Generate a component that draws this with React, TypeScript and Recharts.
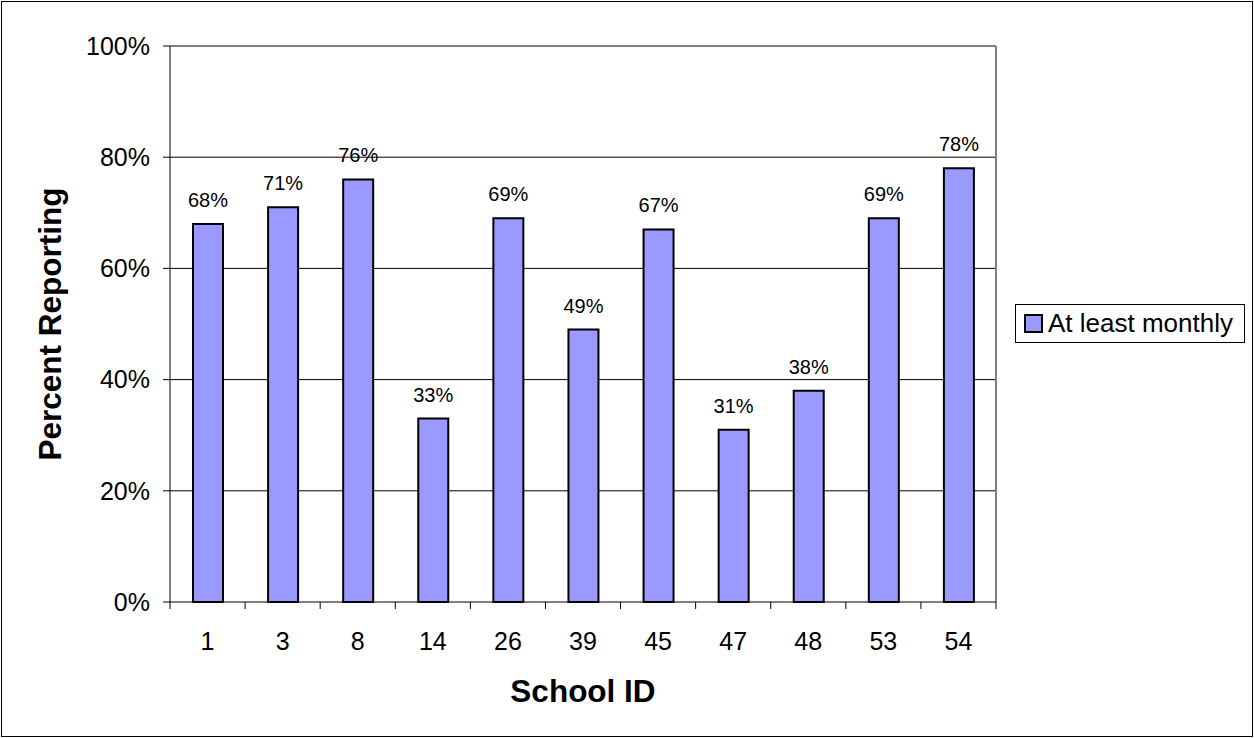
import React from 'react';
import {
  BarChart,
  Bar,
  XAxis,
  YAxis,
  CartesianGrid,
  LabelList,
  Legend,
  Label,
  ReferenceLine,
} from 'recharts';

// School identifiers along the category axis
const schoolIds = ['1', '3', '8', '14', '26', '39', '45', '47', '48', '53', '54'];
// Share of respondents reporting "at least monthly", in percent
const atLeastMonthly = [68, 71, 76, 33, 69, 49, 67, 31, 38, 69, 78];
// Value-axis ticks and the interior gridlines
const percentTicks = [0, 20, 40, 60, 80, 100];
const gridValues = [20, 40, 60, 80];

const seriesName = 'At least monthly';
const BAR_FILL = '#9999FF';
const FRAME = '#808080';
const FONT = '"Liberation Sans", Arial, Helvetica, sans-serif';

const data = schoolIds.map((id, i) => ({ id, monthly: atLeastMonthly[i] }));

// Category tick: label centred in its band, tick marks on the band boundaries
const SchoolTick = (props: any) => {
  const { x, y, payload, index, width } = props;
  const half =
    payload && typeof payload.offset === 'number' && payload.offset > 0
      ? payload.offset
      : width / schoolIds.length / 2;
  const isLast = index === schoolIds.length - 1;
  return (
    <g>
      <line x1={x - half} x2={x - half} y1={y} y2={y + 7} stroke="#000" strokeWidth={1} />
      {isLast && (
        <line x1={x + half} x2={x + half} y1={y} y2={y + 7} stroke="#000" strokeWidth={1} />
      )}
      <text
        x={x}
        y={y + 39}
        textAnchor="middle"
        dominantBaseline="central"
        fontSize={25}
        fontFamily={FONT}
        fill="#000"
      >
        {payload.value}
      </text>
    </g>
  );
};

const LegendBox = () => (
  <div
    style={{
      boxSizing: 'border-box',
      width: 230,
      height: 39,
      border: '1px solid #000',
      background: '#fff',
      display: 'flex',
      alignItems: 'center',
      paddingLeft: 8,
      fontFamily: FONT,
      fontSize: 26,
      color: '#000',
      whiteSpace: 'nowrap',
    }}
  >
    <span
      style={{
        display: 'inline-block',
        boxSizing: 'border-box',
        width: 19,
        height: 19,
        border: '2px solid #000',
        background: BAR_FILL,
        marginRight: 5,
      }}
    />
    <span>{seriesName}</span>
  </div>
);

export default function App() {
  return (
    <div style={{ position: 'absolute', left: 0, top: 0, width: 1254, height: 738, background: '#fff' }}>
      <div
        style={{
          position: 'absolute',
          left: 1,
          top: 1,
          width: 1252,
          height: 736,
          boxSizing: 'border-box',
          border: '1px solid #000',
        }}
      />
      <div style={{ position: 'absolute', left: 0, top: 0 }}>
        <BarChart
          width={1254}
          height={738}
          data={data}
          margin={{ top: 46, right: 258, bottom: 37, left: 70 }}
        >
          <CartesianGrid
            xAxisId="school"
            yAxisId="pct"
            vertical={false}
            horizontalValues={gridValues}
            stroke="#000"
            strokeWidth={1}
          />
          <ReferenceLine
            xAxisId="school"
            yAxisId="pct"
            y={100}
            stroke={FRAME}
            strokeWidth={2}
            ifOverflow="visible"
          />
          <ReferenceLine
            xAxisId="school"
            yAxisId="pct"
            x={schoolIds[schoolIds.length - 1]}
            position="end"
            stroke={FRAME}
            strokeWidth={2}
            ifOverflow="visible"
          />
          <XAxis
            xAxisId="school"
            dataKey="id"
            height={60}
            interval={0}
            tickLine={false}
            tickSize={0}
            tickMargin={0}
            axisLine={{ stroke: '#000', strokeWidth: 1 }}
            tick={<SchoolTick />}
          >
            <Label
              content={(p: any) => {
                const vb = p.viewBox || { x: 170, y: 602, width: 826 };
                return (
                  <text
                    x={vb.x + vb.width / 2}
                    y={vb.y + 100}
                    textAnchor="middle"
                    fontSize={31.5}
                    fontWeight="bold"
                    fontFamily={FONT}
                    fill="#000"
                  >
                    School ID
                  </text>
                );
              }}
            />
          </XAxis>
          <YAxis
            yAxisId="pct"
            width={100}
            domain={[0, 100]}
            ticks={percentTicks}
            interval={0}
            tickFormatter={(v: number) => `${v}%`}
            tickSize={7}
            tickMargin={13}
            tickLine={{ stroke: '#000', strokeWidth: 1 }}
            axisLine={{ stroke: '#000', strokeWidth: 1 }}
            tick={{ fontSize: 25, fontFamily: FONT, fill: '#000' }}
          >
            <Label
              content={(p: any) => {
                const vb = p.viewBox || { x: 70, y: 46, height: 556 };
                const cx = vb.x - 9;
                const cy = vb.y + vb.height / 2;
                return (
                  <text
                    x={cx}
                    y={cy}
                    transform={`rotate(-90 ${cx} ${cy})`}
                    textAnchor="middle"
                    fontSize={31.5}
                    fontWeight="bold"
                    fontFamily={FONT}
                    fill="#000"
                  >
                    Percent Reporting
                  </text>
                );
              }}
            />
          </YAxis>
          <Legend
            content={<LegendBox />}
            wrapperStyle={{ position: 'absolute', left: 1015, top: 304, width: 230, height: 39 }}
          />
          <Bar
            xAxisId="school"
            yAxisId="pct"
            dataKey="monthly"
            name={seriesName}
            fill={BAR_FILL}
            stroke="#000"
            strokeWidth={2}
            barSize={30}
            isAnimationActive={false}
          >
            <LabelList
              dataKey="monthly"
              position="top"
              offset={17}
              formatter={(v: any) => `${v}%`}
              style={{ fontSize: 20, fontFamily: FONT, fill: '#000' }}
            />
          </Bar>
        </BarChart>
      </div>
    </div>
  );
}
